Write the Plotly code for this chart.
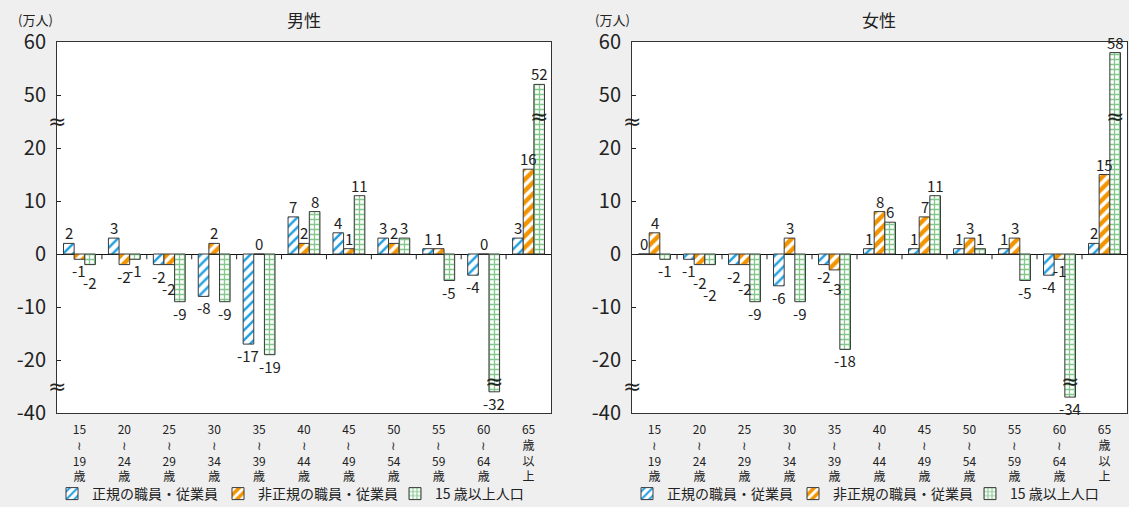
import plotly.graph_objects as go

# Age groups (x categories)
age_labels = [
    "15<br>≀<br>19<br>歳", "20<br>≀<br>24<br>歳", "25<br>≀<br>29<br>歳",
    "30<br>≀<br>34<br>歳", "35<br>≀<br>39<br>歳", "40<br>≀<br>44<br>歳",
    "45<br>≀<br>49<br>歳", "50<br>≀<br>54<br>歳", "55<br>≀<br>59<br>歳",
    "60<br>≀<br>64<br>歳", "65<br>歳<br>以<br>上",
]
series_names = ["正規の職員・従業員", "非正規の職員・従業員", "15 歳以上人口"]

# Changes (万人), men
male_regular = [2, 3, -2, -8, -17, 7, 4, 3, 1, -4, 3]
male_nonregular = [-1, -2, -2, 2, 0, 2, 1, 2, 1, 0, 16]
male_population = [-2, -1, -9, -9, -19, 8, 11, 3, -5, -32, 52]

# Changes (万人), women
female_regular = [0, -1, -2, -6, -2, 1, 1, 1, 1, -4, 2]
female_nonregular = [4, -2, -2, 3, -3, 8, 7, 3, 3, -1, 15]
female_population = [-1, -2, -9, -9, -18, 6, 11, 1, -5, -34, 58]

# Broken value axis: 20..50 is collapsed, -20..-40 is compressed
y_tick_values = [60, 50, 20, 10, 0, -10, -20, -40]


def to_axis(v):
    if v > 50:
        return v - 20
    if v > 20:
        return 20 + (v - 20) * 10 / 30
    if v < -20:
        return -20 + (v + 20) * 0.5
    return v


BLUE = "#22a0e2"
ORANGE = "#f29400"
GREEN = "#84c88d"
EDGE = "#3a3a3a"
FONT = "Noto Sans CJK JP"
TXT = "#222"

patterns = [
    dict(shape="/", fgcolor=BLUE, bgcolor="white", size=7, solidity=0.35, fillmode="replace"),
    dict(shape="/", fgcolor="white", bgcolor=ORANGE, size=8, solidity=0.45, fillmode="replace"),
    dict(shape="+", fgcolor=GREEN, bgcolor="white", size=5, solidity=0.45, fillmode="replace"),
]

BARGAP = 0.29
bar_w = (1 - BARGAP) / 3
x_idx = list(range(len(age_labels)))

W, H = 1129, 507
left_dom = [57 / W, 551 / W]
right_dom = [632 / W, 1127 / W]
y_dom = [1 - 413 / H, 1 - 42 / H]
Y_RANGE = [-30, 40]
PX_PER_UNIT = (413 - 42) / (Y_RANGE[1] - Y_RANGE[0])

# left edge (px) of each legend entry within a panel
legend_left = [52, 218, 395]

fig = go.Figure()

panels = [
    ("x", "y", 1, left_dom, [male_regular, male_nonregular, male_population]),
    ("x2", "y2", 4, right_dom, [female_regular, female_nonregular, female_population]),
]

annotations = []
legends = {}
for xa, ya, leg0, dom, series in panels:
    shift = dom[0] * W - 57
    for k, (name, vals) in enumerate(zip(series_names, series)):
        leg_id = "legend" if leg0 + k == 1 else f"legend{leg0 + k}"
        legends[leg_id] = dict(
            x=(legend_left[k] + shift) / W, xanchor="left",
            y=1 - 494 / H, yanchor="middle", orientation="h",
            font=dict(family=FONT, size=14, color=TXT), itemwidth=30,
            bgcolor="rgba(0,0,0,0)",
        )
        fig.add_trace(go.Bar(
            x=x_idx, y=[to_axis(v) for v in vals], name=name,
            xaxis=xa, yaxis=ya, legend=leg_id, showlegend=True,
            marker=dict(color="white", pattern=patterns[k], line=dict(color=EDGE, width=1)),
            cliponaxis=False, hoverinfo="skip",
        ))
        # break marks on bars running through a collapsed range
        for i, v in enumerate(vals):
            if v > 50 or v < -20:
                annotations.append(dict(
                    x=i + (k - 1) * bar_w, y=26 if v > 0 else -24,
                    xref=xa, yref=ya, text="≈", showarrow=False,
                    font=dict(family="DejaVu Sans", size=22, color=TXT),
                ))

    # value labels; labels under neighbouring negative bars are staggered
    for i in x_idx:
        prev_v, prev_top = None, None
        for k in range(3):
            v = series[k][i]
            d = to_axis(v)
            xk = i + (k - 1) * bar_w
            if v >= 0:
                annotations.append(dict(
                    x=xk, y=d, xref=xa, yref=ya, text=str(v), showarrow=False,
                    yanchor="bottom", yshift=-2,
                    font=dict(family=FONT, size=15, color=TXT),
                ))
                prev_v, prev_top = None, None
                continue
            bar_end = -d * PX_PER_UNIT
            top = bar_end + 2
            if prev_v is not None and v <= prev_v and top - prev_top < 12:
                top = prev_top + 12
            annotations.append(dict(
                x=xk, y=d, xref=xa, yref=ya, text=str(v), showarrow=False,
                yanchor="top", yshift=-(top - bar_end) + 3,
                font=dict(family=FONT, size=15, color=TXT),
            ))
            prev_v, prev_top = v, top

    # break marks on the value axis
    for yb in (25, -25):
        annotations.append(dict(
            x=-0.5, y=yb, xref=xa, yref=ya, text="≈", showarrow=False,
            font=dict(family="DejaVu Sans", size=22, color=TXT),
        ))
    # short ticks between age groups on the zero line
    for i in range(len(age_labels) - 1):
        fig.add_shape(type="line", xref=xa, yref=ya, x0=i + 0.5, x1=i + 0.5,
                      y0=0, y1=-1, line=dict(color=TXT, width=1))

axis_common = dict(
    showline=True, mirror=True, linecolor="#333", linewidth=1,
    showgrid=False,
)
xaxis_common = dict(
    axis_common, range=[-0.5, len(age_labels) - 0.5],
    tickvals=x_idx, ticktext=age_labels, ticks="",
    tickfont=dict(family=FONT, size=12, color=TXT), zeroline=False,
    ticklabelstandoff=6, automargin=False,
)
yaxis_common = dict(
    axis_common, range=Y_RANGE,
    tickvals=[to_axis(v) for v in y_tick_values],
    ticktext=[str(v) for v in y_tick_values],
    ticks="inside", ticklen=4, tickcolor=TXT,
    tickfont=dict(family=FONT, size=20, color=TXT),
    ticklabelstandoff=6,
    zeroline=True, zerolinecolor="#111", zerolinewidth=1,
    automargin=False,
)

for title, xc in (("男性", 304), ("女性", 879)):
    annotations.append(dict(x=xc / W, y=1 - 20 / H, xref="paper", yref="paper",
                            xanchor="center", yanchor="middle",
                            text=title, showarrow=False,
                            font=dict(family=FONT, size=17, color=TXT)))
for xu in (35, 612):
    annotations.append(dict(x=xu / W, y=1 - 20 / H, xref="paper", yref="paper",
                            xanchor="center", yanchor="middle",
                            text="(万人)", showarrow=False,
                            font=dict(family=FONT, size=13, color=TXT)))

fig.update_layout(
    width=W, height=H,
    margin=dict(l=0, r=0, t=0, b=0, autoexpand=False),
    paper_bgcolor="#efefef", plot_bgcolor="white",
    barmode="group", bargap=BARGAP, bargroupgap=0,
    showlegend=True,
    xaxis=dict(xaxis_common, domain=left_dom, anchor="y"),
    yaxis=dict(yaxis_common, domain=y_dom, anchor="x"),
    xaxis2=dict(xaxis_common, domain=right_dom, anchor="y2"),
    yaxis2=dict(yaxis_common, domain=y_dom, anchor="x2"),
    annotations=annotations,
    font=dict(family=FONT),
    **legends,
)

fig.write_html("out.html")
